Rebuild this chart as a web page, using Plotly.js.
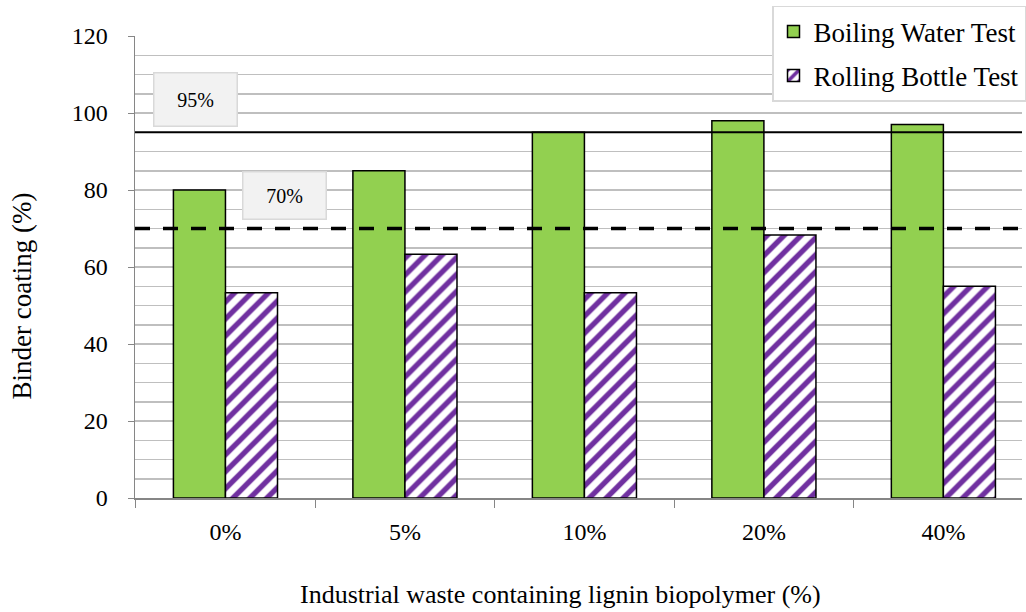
<!DOCTYPE html>
<html>
<head>
<meta charset="utf-8">
<script src="https://cdn.plot.ly/plotly-3.0.1.min.js"></script>
<style>html,body{margin:0;padding:0;background:#fff;}#chart{width:1026px;height:612px;}</style>
</head>
<body>
<div id="chart"></div>
<script>
const categories = ["0%", "5%", "10%", "20%", "40%"];
const boilingWater = [80, 85, 95, 98, 97];
const rollingBottle = [53.3, 63.3, 53.3, 68.3, 55];
const seriesNames = ["Boiling Water Test", "Rolling Bottle Test"];
const thresholds = [95, 70];
const thresholdLabels = ["95%", "70%"];
const xTitle = "Industrial waste containing lignin biopolymer (%)";
const yTitle = "Binder coating (%)";

const font = "'Liberation Serif', 'Times New Roman', serif";

const traces = [
  {
    type: "bar", x: categories, y: boilingWater, name: seriesNames[0],
    legendgroup: "a",
    marker: {color: "#92d050", line: {color: "#000", width: 1.5}}
  },
  {
    type: "bar", x: categories, y: rollingBottle, name: seriesNames[1],
    legendgroup: "b",
    marker: {color: "#ffffff", line: {color: "#000", width: 1.5},
      pattern: {shape: "/", fgcolor: "#7030a0", bgcolor: "#ffffff", size: 12, solidity: 0.45}}
  }
];

const layout = {
  width: 1026, height: 612,
  margin: {l: 135, r: 0, t: 36, b: 114},
  paper_bgcolor: "#fff", plot_bgcolor: "#fff",
  font: {family: font, size: 24, color: "#000"},
  barmode: "group", bargap: 0.42, bargroupgap: 0,
  showlegend: true,
  legend: {
    x: 0.7183, y: 1.065, xanchor: "left", yanchor: "top",
    bordercolor: "#d9d9d9", borderwidth: 1.5, bgcolor: "#fff",
    font: {family: font, size: 27}, tracegroupgap: 6,
    traceorder: "grouped", itemwidth: 30
  },
  xaxis: {
    type: "category", range: [-0.504, 4.438],
    tickson: "boundaries", ticks: "outside", ticklen: 8, tickcolor: "#868686",
    showline: true, linecolor: "#868686", linewidth: 1.5,
    showgrid: false, zeroline: false,
    ticklabelstandoff: 12,
    tickfont: {family: font, size: 24}
  },
  yaxis: {
    range: [0, 120], dtick: 20, tick0: 0,
    ticks: "outside", ticklen: 6, tickcolor: "#868686",
    showline: true, linecolor: "#868686", linewidth: 1.5,
    showgrid: true, gridcolor: "#bfbfbf", gridwidth: 1.5,
    minor: {dtick: 5, showgrid: true, gridcolor: "#bfbfbf", gridwidth: 1.5},
    zeroline: false,
    ticklabelstandoff: 15,
    tickfont: {family: font, size: 24}
  },
  shapes: [
    {type: "line", xref: "paper", x0: 0, x1: 1, yref: "y", y0: thresholds[0], y1: thresholds[0],
     line: {color: "#000", width: 2}, layer: "above"},
    {type: "line", xref: "paper", x0: 0, x1: 1, yref: "y", y0: thresholds[1], y1: thresholds[1],
     line: {color: "#000", width: 3.5, dash: "15px,13px"}, layer: "above"}
  ],
  annotations: [
    {xref: "paper", yref: "y", x: 0.0685, y: 103.6, xanchor: "center", yanchor: "middle",
     text: thresholdLabels[0], showarrow: false,
     width: 80, height: 50, bgcolor: "#f2f2f2", bordercolor: "#d9d9d9", borderwidth: 1.5,
     font: {family: font, size: 20}},
    {xref: "paper", yref: "y", x: 0.168, y: 78.7, xanchor: "center", yanchor: "middle",
     text: thresholdLabels[1], showarrow: false,
     width: 80, height: 44, bgcolor: "#f2f2f2", bordercolor: "#d9d9d9", borderwidth: 1.5,
     font: {family: font, size: 20}},
    {xref: "paper", yref: "paper", x: (562 - 135) / 891, y: -(594 - 498) / 462,
     xanchor: "center", yanchor: "middle", text: xTitle, showarrow: false,
     font: {family: font, size: 26}},
    {xref: "paper", yref: "paper", x: -(135 - 21) / 891, y: (498 - 296) / 462,
     xanchor: "center", yanchor: "middle", text: yTitle, showarrow: false, textangle: -90,
     font: {family: font, size: 27}}
  ]
};

Plotly.newPlot("chart", traces, layout, {displayModeBar: false, staticPlot: true});
</script>
</body>
</html>
